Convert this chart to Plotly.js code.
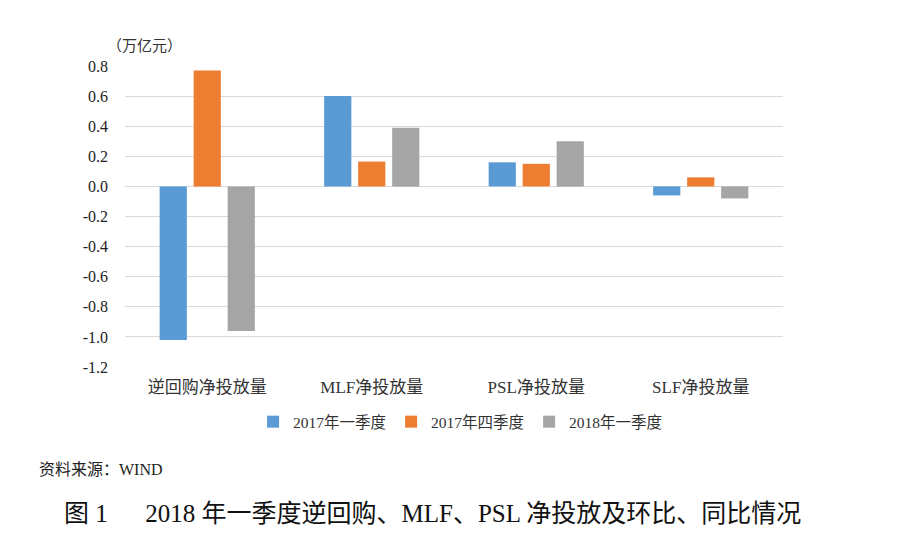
<!DOCTYPE html>
<html>
<head>
<meta charset="utf-8">
<script src="https://cdn.plot.ly/plotly-3.0.1.min.js"></script>
<style>
html,body{margin:0;padding:0;background:#fff;}
#chart{width:897px;height:554px;}
</style>
</head>
<body>
<div id="chart"></div>
<script>
var categories = ["逆回购净投放量", "MLF净投放量", "PSL净投放量", "SLF净投放量"];
var seriesNames = ["2017年一季度", "2017年四季度", "2018年一季度"];
var q1_2017 = [-1.02, 0.60, 0.16, -0.06];
var q4_2017 = [0.77, 0.165, 0.15, 0.06];
var q1_2018 = [-0.96, 0.39, 0.30, -0.08];
var colors = ["#5B9BD5", "#ED7D31", "#A5A5A5"];
var tickVals = [0.8, 0.6, 0.4, 0.2, 0.0, -0.2, -0.4, -0.6, -0.8, -1.0, -1.2];
var tickText = tickVals.map(function(v){return v.toFixed(1);});

var serif = "'Liberation Serif', 'Times New Roman', 'Noto Sans CJK SC', serif";
var values = [q1_2017, q4_2017, q1_2018];
var traces = values.map(function(vals, i){
  return {type:"bar", x:categories, y:vals, name:seriesNames[i],
          marker:{color:colors[i]}, hoverinfo:"y"};
});

var layout = {
  width:897, height:554,
  margin:{l:125, r:114, t:66, b:187},
  paper_bgcolor:"#fff", plot_bgcolor:"#fff",
  barmode:"group", bargap:0.38, bargroupgap:0.2,
  font:{family:serif, color:"#222", size:15},
  showlegend:true,
  legend:{orientation:"h", x:0.51, xanchor:"center", y:-0.183, yanchor:"middle",
          font:{family:serif, size:15.5, color:"#333"}, itemwidth:30, traceorder:"normal"},
  xaxis:{showgrid:false, showline:false, ticks:"", ticklabelstandoff:8,
         tickfont:{family:serif, size:17, color:"#333"}, fixedrange:true},
  yaxis:{range:[-1.2, 0.8], tickvals:tickVals, ticktext:tickText, showgrid:true,
         gridcolor:"#D9D9D9", gridwidth:1, zeroline:true, zerolinecolor:"#D9D9D9", zerolinewidth:1,
         showline:false, ticks:"", ticklen:0, ticklabelstandoff:16,
         tickfont:{family:serif, size:16, color:"#222"}, automargin:false},
  annotations:[
    {text:"（万亿元）", xref:"paper", yref:"paper", x:-0.03, y:1.073, xanchor:"left", yanchor:"middle",
     showarrow:false, font:{family:"'Noto Sans CJK SC', sans-serif", size:15, color:"#333"}},
    {text:"资料来源：WIND", xref:"paper", yref:"paper", x:-0.134, y:-0.342, xanchor:"left", yanchor:"middle",
     showarrow:false, font:{family:serif, size:16, color:"#222"}},
    {text:"图 1&#160;&#160;&#160;&#160;&#160;&#160;2018 年一季度逆回购、MLF、PSL 净投放及环比、同比情况", xref:"paper", yref:"paper",
     x:-0.096, y:-0.488, xanchor:"left", yanchor:"middle",
     showarrow:false, font:{family:serif, size:25, color:"#111"}}
  ]
};
Plotly.newPlot("chart", traces, layout, {displayModeBar:false, staticPlot:true});
</script>
</body>
</html>
